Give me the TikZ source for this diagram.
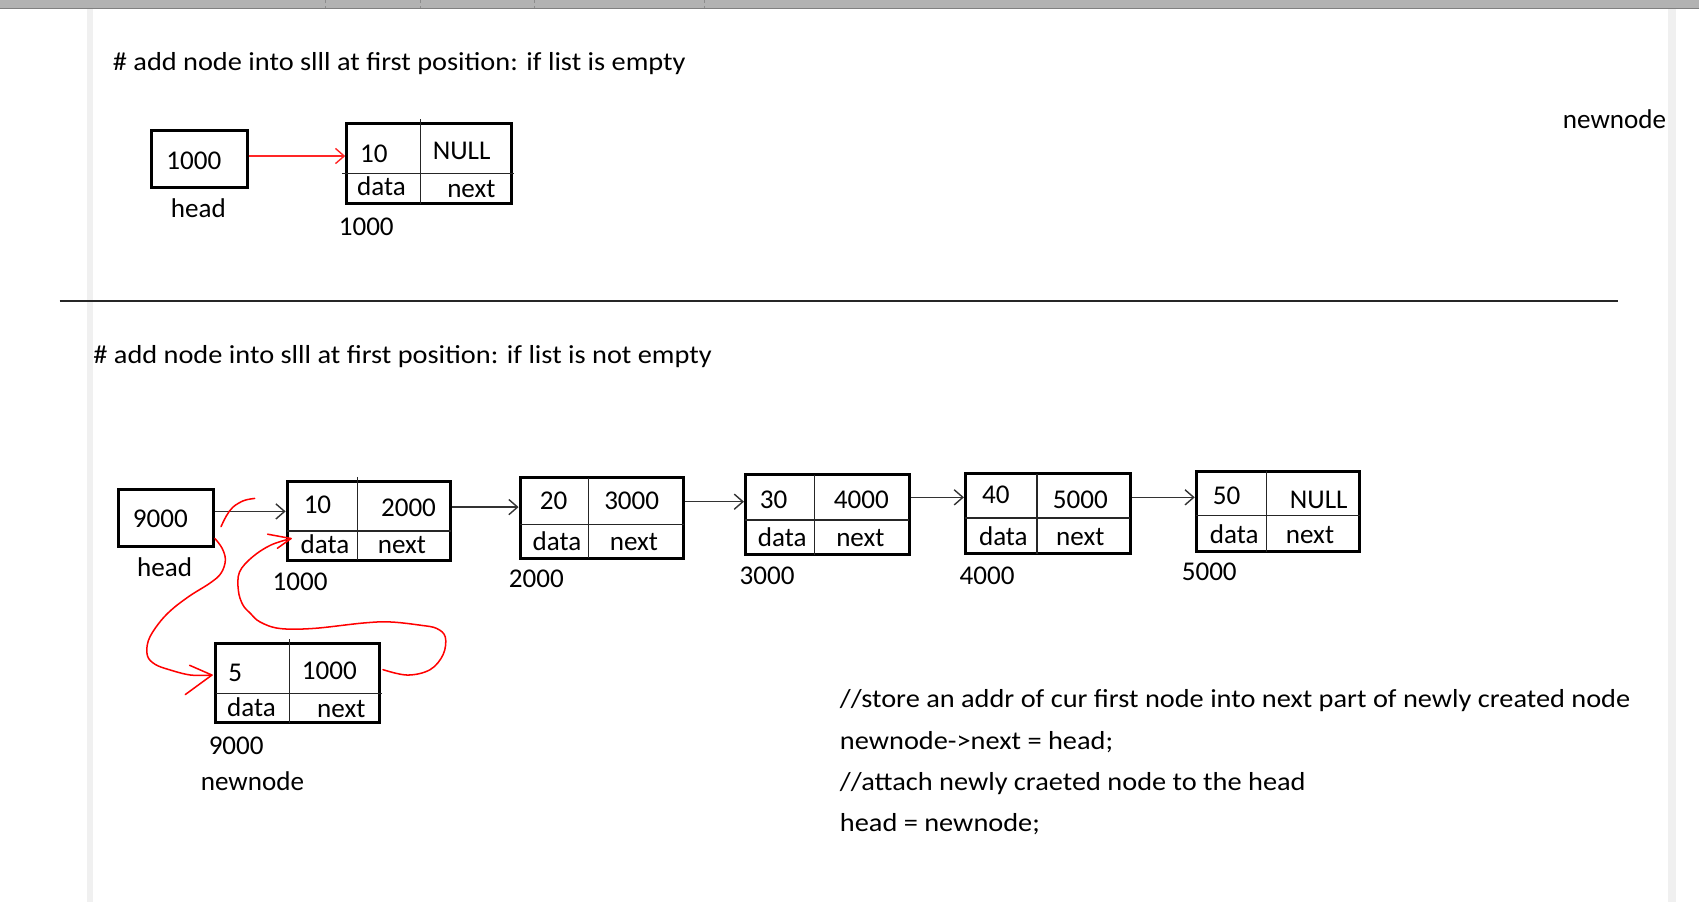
\documentclass[tikz,border=0pt]{standalone}
\usepackage{fontspec}
\setmainfont{Carlito}
\newfontfamily\widefont[FakeStretch=1.09]{Carlito}
\usetikzlibrary{arrows.meta,calc}
\begin{document}
\begin{tikzpicture}[x=1pt,y=-1pt,
  box/.style={draw, line width=2.8pt, inner sep=0pt, minimum width=151pt, minimum height=73pt},
  hbox/.style={draw, line width=2.8pt, inner sep=0pt, minimum width=88pt, minimum height=53pt},
  sepl/.style={line width=1.2pt, draw=black!85},
  lbl/.style={font=\fontsize{25}{30}\selectfont, inner sep=0pt},
  txt/.style={font=\widefont\fontsize{24}{28}\selectfont, inner sep=0pt, anchor=west},
  link/.style={line width=1.3pt, draw=black!80, -{Straight Barb[length=8pt,width=14pt,line width=1.3pt]}},
  redlink/.style={line width=1.3pt, draw=red!85, -{Straight Barb[length=8pt,width=14pt,line width=1.3pt]}},
  hand/.style={draw=red, line width=1.4pt, line cap=round, line join=round}]
\useasboundingbox (0,0) rectangle (1568,832);
% window chrome
\fill[black!30] (0,0) rectangle (1568,7);
\draw[black!50, line width=1pt] (0,7.5) -- (1568,7.5);
\foreach \xx in {300,388,493,650} \draw[black!45, dashed, line width=0.6pt] (\xx,0) -- (\xx,7);
\fill[black!6] (80,8) rectangle (86,832);
\fill[black!6] (1539,8) rectangle (1547,832);

% ---------- top section ----------
\node[txt] (title1) at (104,59) {\# add node into slll at first position: if list is empty};
\node[hbox] (head1) at (184,146.5) {};
\node[lbl] (head1v) at (179,148) {1000};
\node[lbl] (head1l) at (183,192) {head};
\node[box, minimum width=152pt, minimum height=74pt] (t1) at (396,151) {};
\draw[sepl] (388,110) -- (388,188);
\draw[sepl] (316,160) -- (474,160);
\node[lbl] (t1d) at (345,142) {10};
\node[lbl] (t1n) at (426,139) {NULL};
\node[lbl] (t1dl) at (352,172) {data};
\node[lbl] (t1nl) at (435,174) {next};
\node[lbl] (t1a) at (338,209) {1000};
\draw[redlink] ($(head1.east)+(0,-2.5)$) -- ($(t1.west)+(0,-7)$);
\node[lbl] (nnlabeltop) at (1490,110) {newnode};

% separator
\draw[line width=1.8pt, black!85] (55,278) -- (1493,278);

% ---------- bottom section ----------
\node[txt] (title2) at (86,329) {\# add node into slll at first position: if list is not empty};

\node[hbox, minimum height=52pt] (h2) at (153,478) {};
\node[lbl] (h2v) at (148,479) {9000};
\node[lbl] (h2l) at (152,523) {head};

\node[box] (n1) at (340.5,480.5) {};
\draw[sepl] (330,440) -- (330,517);
\draw[sepl] (265,490) -- (416,490);
\node[lbl] (n1d) at (293,466) {10};
\node[lbl] (n1n) at (377,469) {2000};
\node[lbl] (n1dl) at (300,502) {data};
\node[lbl] (n1nl) at (371,503) {next};
\node[lbl] (n1a) at (277,537) {1000};

\node[box, minimum height=74pt] (n2) at (555.5,478) {};
\draw[sepl] (543,441) -- (543,515);
\draw[sepl] (480,484) -- (631,484);
\node[lbl] (n2d) at (511,462) {20};
\node[lbl] (n2n) at (583,462) {3000};
\node[lbl] (n2dl) at (514,499) {data};
\node[lbl] (n2nl) at (585,500) {next};
\node[lbl] (n2a) at (495,534) {2000};

\node[box, minimum height=74pt] (n3) at (763.5,475) {};
\draw[sepl] (752,438) -- (752,512);
\draw[sepl] (688,480) -- (839,480);
\node[lbl] (n3d) at (714,461) {30};
\node[lbl] (n3n) at (795,461) {4000};
\node[lbl] (n3dl) at (722,496) {data};
\node[lbl] (n3nl) at (794,497) {next};
\node[lbl] (n3a) at (708,531) {3000};

\node[box, minimum width=152pt, minimum height=74pt] (n4) at (967,474) {};
\draw[sepl] (957,437) -- (957,511);
\draw[sepl] (891,478) -- (1043,478);
\node[lbl] (n4d) at (919,457) {40};
\node[lbl] (n4n) at (997,461) {5000};
\node[lbl] (n4dl) at (926,495) {data};
\node[lbl] (n4nl) at (997,496) {next};
\node[lbl] (n4a) at (911,531) {4000};

\node[box, minimum height=74pt] (n5) at (1179.5,472) {};
\draw[sepl] (1169,435) -- (1169,509);
\draw[sepl] (1104,476) -- (1255,476);
\node[lbl] (n5d) at (1132,458) {50};
\node[lbl] (n5n) at (1217,461) {NULL};
\node[lbl] (n5dl) at (1139,493) {data};
\node[lbl] (n5nl) at (1209,494) {next};
\node[lbl] (n5a) at (1116,528) {5000};

\draw[link] ($(h2.east)+(0,-6)$) -- ($(n1.west)+(0,-8.5)$);
\draw[link] ($(n1.east)+(0,-12.5)$) -- ($(n2.west)+(0,-10)$);
\draw[link] ($(n2.east)+(0,-15)$) -- ($(n3.west)+(0,-12)$);
\draw[link] ($(n3.east)+(0,-16)$) -- ($(n4.west)+(0,-15)$);
\draw[link] ($(n4.east)+(0,-15)$) -- ($(n5.west)+(0,-13)$);

% new node
\node[box] (nn) at (274.5,630.5) {};
\draw[sepl] (267,590) -- (267,667);
\draw[sepl] (199,640) -- (353,640);
\node[lbl] (nnd) at (217,621) {5};
\node[lbl] (nnn) at (304,619) {1000};
\node[lbl] (nndl) at (232,653) {data};
\node[lbl] (nnnl) at (315,654) {next};
\node[lbl] (nna) at (218,688) {9000};
\node[lbl] (nnl) at (233,721) {newnode};

% hand-drawn red links
\coordinate (s1) at ($(h2.east)+(0,19)$);
\coordinate (e1) at ($(nn.west)+(-2,-7.5)$);
\draw[hand] plot[smooth, tension=0.6] coordinates {(s1) (205,506) (208,517) (204,529) (194,538) (175,550) (158,563) (146,576) (137,591) (136,605) (143,613) (156,618) (176,623) (e1)};
\draw[hand] (175,614) -- (e1) -- (171,641);

\coordinate (s2) at ($(nn.east)+(2,-12.5)$);
\coordinate (e2) at ($(n1.west)+(5,16.5)$);
\draw[hand] plot[smooth, tension=0.6] coordinates {(s2) (376,623) (397,618) (409,604) (411,588) (403,580) (388,577) (360,574) (335,575) (289,580) (258,580) (240,574) (231,566) (224,558) (220,545) (221,528) (233,514) (250,503) (e2)};
\draw[hand] (247,493) -- (e2) -- (256,506);

\draw[hand] plot[smooth, tension=0.6] coordinates {(204,486) (209,476) (215,468) (225,462) (235,460)};

% code text
\node[txt] (c1) at (775,647) {//store an addr of cur first node into next part of newly created node};
\node[txt] (c2) at (775,685) {newnode->next = head;};
\node[txt] (c3) at (775,723) {//attach newly craeted node to the head};
\node[txt] (c4) at (775,761) {head = newnode;};
\end{tikzpicture}
\end{document}
